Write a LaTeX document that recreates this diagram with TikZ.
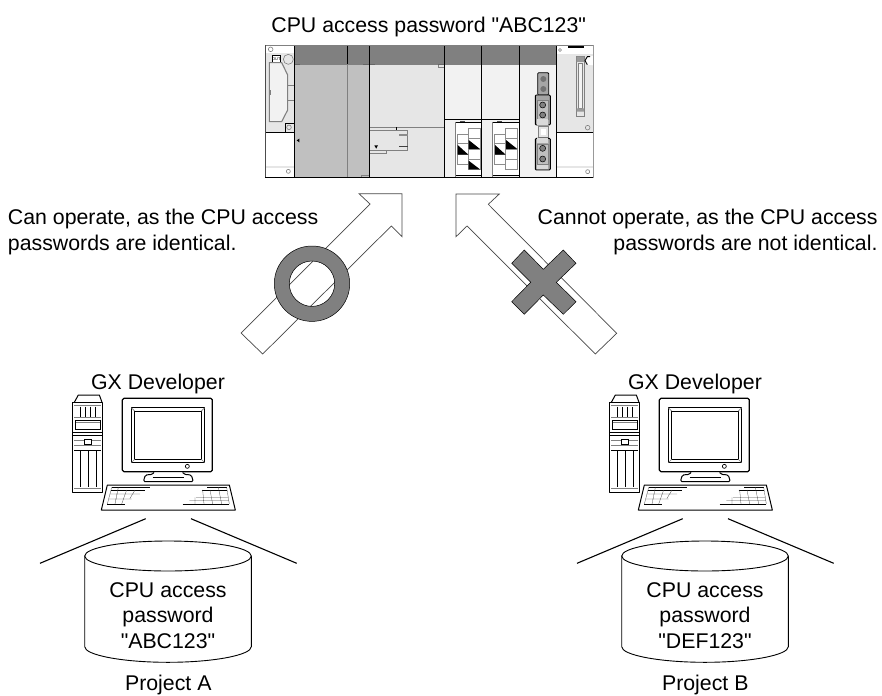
\documentclass[tikz,border=0pt]{standalone}
\usepackage{fontspec}
\setmainfont{Liberation Sans}[Ligatures=TeXOff]
\definecolor{markgray}{gray}{0.5}
\definecolor{slotgray}{gray}{0.753}
\definecolor{panelgray}{gray}{0.902}
\definecolor{palegray}{gray}{0.95}
\tikzset{
  txt/.style={inner sep=0pt,outer sep=0pt,font=\fontsize{21.3}{25.3}\selectfont},
  bigarrow/.style={draw=black!72,line width=0.7pt,fill=white,line join=miter},
  markshape/.style={draw=black,line width=0.5pt,fill=markgray,even odd rule},
  plcline/.style={draw=black,line width=0.9pt},
  thin gray/.style={draw=markgray,line width=0.6pt},
  cell/.style={draw=black!45,line width=0.6pt,fill=white},
  key/.style={line width=0.3pt,draw=black!70},
  keyb/.style={line width=0.8pt,draw=black},
  pcline/.style={draw=black,line width=1.0pt,line join=round},
  cyl/.style={draw=black,line width=0.9pt},
  spread/.style={draw=black,line width=1.1pt},
  pcset/.pic={
    \begin{scope}[x=0.33333pt,y=-0.33333pt]
      % tower
      \draw[pcline,fill=white] (128,37) rectangle (218,307);
      \draw[pcline] (133,37) -- (145,15) -- (208,15) -- (216,37);
      \draw[line width=1.3pt] (128,128) -- (218,128);
      \draw[line width=0.5pt] (128,135) -- (218,135);
      \draw[thin gray] (133,45) -- (213,45) (133,82) -- (213,82) (133,295) -- (213,295);
      \draw[line width=0.8pt] (151,50) -- (151,80) (165,50) -- (165,80) (180,50) -- (180,80) (195,50) -- (195,80);
      \draw[line width=0.7pt] (137,92) rectangle (210,118);
      \draw[thin gray] (137,98) -- (210,98);
      \draw[thin gray] (133,150) -- (213,150) (133,165) -- (213,165);
      \draw[line width=0.6pt,fill=white] (163,148) rectangle (183,163);
      \draw[line width=0.9pt] (133,180) -- (213,180);
      \draw[line width=0.9pt] (151,182) -- (151,290) (176,182) -- (176,290) (200,182) -- (200,290);
      % monitor
      \draw[pcline,rounded corners=1.5pt,line width=1.2pt,fill=white] (277,25) rectangle (547,245);
      \draw[line width=0.6pt] (304,53) rectangle (524,218);
      \draw[pcline,fill=white] (314,63) rectangle (514,208);
      \draw[thin gray] (304,53) -- (314,63) (524,53) -- (514,63) (304,218) -- (314,208) (524,218) -- (514,208);
      \draw[line width=0.7pt] (472,229) circle (2pt);
      % stand
      \draw[pcline,rounded corners=1.5pt,fill=white] (372,247) -- (368,253) -- (346,255) -- (340,275) -- (490,275) -- (484,255) -- (462,253) -- (458,247);
      \draw[line width=0.7pt] (368,262) -- (462,262);
      % keyboard
      \draw[pcline,fill=white] (232,285) -- (598,285) -- (616,360) -- (214,360) -- cycle;
      \draw[keyb] (245,292) -- (360,292) (243,300) -- (345,300) (232,342) -- (285,342);
      \draw[key] (240,312) -- (330,312) (236,327) -- (305,327)
                 (245,292) -- (232,342) (265,292) -- (255,342) (290,300) -- (275,342) (315,300) -- (300,325);
      \draw[keyb] (532,292) -- (590,292) (515,300) -- (592,300) (458,342) -- (598,342);
      \draw[key] (498,322) -- (594,322) (478,332) -- (596,332)
                 (590,292) -- (598,342) (565,292) -- (575,342) (540,300) -- (548,342) (518,300) -- (522,342) (495,322) -- (495,342);
    \end{scope}
  },
  dbset/.pic={
    \draw[spread] (-22.3,-37.3) -- (-128,7.3) (23,-37.3) -- (128.7,7.3);
    \draw[cyl,fill=white] (-83.3,0) -- (-83.3,90.7) .. controls (-83.3,99) and (-46,106.3) .. (0,106.3) .. controls (46,106.3) and (83.3,99) .. (83.3,90.7) -- (83.3,0);
    \draw[cyl,fill=white] (0,0) ellipse [x radius=83.3pt,y radius=15pt];
  }
}
\begin{document}
\begin{tikzpicture}[x=1pt,y=-1pt]
\useasboundingbox (0,0) rectangle (882,695);
\fill[white] (0,0) rectangle (882,695);

\node[txt,anchor=base] (plclabel) at (428.7,32.5) {CPU access password "ABC123"};

% PLC rack, in coordinates of a 3x crop at (260,30)
\begin{scope}[shift={(260pt,-30pt)},x=0.33333pt,y=-0.33333pt]
  % base fills
  \fill[panelgray] (16,45) rectangle (104,308);
  \fill[white] (16,45) rectangle (104,68);
  \fill[white] (16,308) rectangle (104,443);
  \fill[panelgray] (18,408) rectangle (104,413);
  \fill[slotgray] (104,106) rectangle (329,443);
  \fill[panelgray] (329,106) rectangle (553,443);
  \fill[palegray] (553,106) rectangle (777,443);
  \fill[palegray] (777,106) rectangle (890,443);
  \fill[panelgray] (890,45) rectangle (1000,308);
  \fill[white] (890,45) rectangle (1000,72);
  \fill[white] (890,308) rectangle (1000,443);
  \fill[panelgray] (890,408) rectangle (1000,413);
  \fill[markgray] (104,45) rectangle (890,106);
  % left unit
  \draw[thin gray] (32,58) circle (2.3pt);
  \draw[line width=0.8pt,fill=white] (36,76) rectangle (62,96);
  \node[inner sep=0pt,font=\fontsize{4}{4}\selectfont] (outmark) at (49,86) {OUT};
  \draw[thin gray] (85,88) circle (5pt);
  \draw[draw=markgray,line width=1.1pt,fill=palegray] (28,98) -- (65,98) -- (83,135) -- (83,240) -- (65,275) -- (28,275) -- cycle;
  \draw[thin gray] (83,165) -- (103,165) -- (103,210) -- (83,210);
  \fill[markgray] (28,180) rectangle (32,195);
  \draw[line width=0.8pt] (104,280) -- (77,280) -- (77,308);
  \draw[thin gray] (87,292) circle (2.3pt);
  \draw[line width=0.9pt] (16,308) -- (104,308);
  \draw[thin gray] (85,424) circle (2pt);
  \fill (110,331) -- (118,326) -- (118,337) -- cycle;
  % slot divider and module tabs
  \draw[draw=markgray,line width=0.8pt] (263,106) -- (263,443);
  \draw[line width=0.9pt] (263,45) -- (263,102);
  \draw[draw=black!60,line width=0.6pt] (104,102) -- (120,102) (310,102) -- (345,102) (535,102) -- (553,102);
  \draw[thin gray] (303,443) -- (303,436) -- (329,436) (535,106) -- (535,113) -- (553,113);
  % CPU panel detail
  \draw[thin gray] (330,292) -- (553,292);
  \draw[thin gray] (330,300) -- (443,300) -- (443,361) -- (330,361) (330,371) -- (378,371) -- (378,361);
  \draw[line width=0.8pt] (409,292) -- (409,300);
  \fill[black!45] (417,312) rectangle (443,317);
  \fill[black!75] (417,349) rectangle (443,352);
  \fill (343,346) -- (354,346) -- (348.5,356) -- cycle;
  % two modules
  \draw[line width=0.9pt] (553,268) -- (777,268);
  \foreach \dx in {0,112}{
    \begin{scope}[xshift=\dx*0.33333pt]
      \fill[white] (586,277) rectangle (665,435);
      \draw[line width=0.9pt] (586,277) -- (665,277) (586,435) -- (665,435);
      \draw[thin gray] (586,277) -- (586,443);
      \draw[line width=0.5pt,black!70] (600,273) -- (615,273);
      \draw[cell] (592,313) rectangle (625,341);
      \draw[cell] (592,341) rectangle (625,374);
      \draw[cell] (592,374) rectangle (625,403);
      \draw[cell] (625,296) rectangle (660,326);
      \draw[cell] (625,326) rectangle (660,357);
      \draw[cell] (625,357) rectangle (660,388);
      \draw[cell] (625,388) rectangle (660,418);
      \fill (593,345) -- (593,374) -- (625,374) -- cycle;
      \fill (626,330) -- (626,357) -- (660,357) -- cycle;
    \end{scope}
  }
  \fill (626,392) -- (626,418) -- (660,418) -- cycle;
  % connector column
  \draw[line width=0.8pt,fill=black!35,rounded corners=1pt] (833,128) rectangle (866,195);
  \fill[black!55] (850,147) circle (3pt) (850,177) circle (3pt);
  \draw[line width=0.9pt,fill=black!35,rounded corners=1pt] (826,195) rectangle (871,285);
  \draw[thin gray,fill=black!25] (832,212) rectangle (865,268);
  \draw[line width=0.5pt,fill=black!50] (848,225) circle (3pt) (848,255) circle (3pt);
  \fill[black!15] (832,268) rectangle (865,285);
  \draw[thin gray,fill=black!10] (835,290) rectangle (865,322);
  \fill[white] (843,298) rectangle (857,314);
  \draw[line width=0.9pt,fill=black!35,rounded corners=1pt] (826,325) rectangle (871,420);
  \fill[black!15] (832,325) rectangle (865,340);
  \draw[thin gray,fill=black!25] (832,342) rectangle (865,403);
  \draw[line width=0.5pt,fill=black!50] (848,355) circle (3pt) (848,387) circle (3pt);
  \fill[black!15] (832,405) rectangle (865,418);
  % right unit
  \draw[thin gray] (900,60) circle (1.5pt);
  \fill (925,49) rectangle (972,55);
  \draw[draw=markgray,line width=0.8pt,fill=panelgray] (950,80) rectangle (972,258);
  \draw[draw=markgray,line width=0.6pt,fill=white!50!panelgray] (955,100) rectangle (968,235);
  \fill[black!40] (950,80) rectangle (972,96) (950,235) rectangle (972,245);
  \fill[white] (1000,78) -- (982,80) -- (975,92) -- (982,104) -- (1000,106) -- cycle;
  \draw[line width=0.9pt] (990,80) -- (982,80) -- (975,92) -- (982,104);
  \draw[thin gray] (983,293) circle (2.3pt);
  \draw[line width=0.9pt] (890,308) -- (1000,308);
  \draw[thin gray] (983,425) circle (2pt);
  % module dividers and outline
  \foreach \xd in {104,329,553,665,777,890}{\draw[plcline] (\xd,45) -- (\xd,443);}
  \draw[draw=black!50,line width=0.8pt] (16,45) -- (1000,45);
  \draw[draw=black!70,line width=0.8pt] (16,45) -- (16,443);
  \draw[draw=black!40,line width=0.6pt] (1000,45) -- (1000,443);
  \draw[line width=1.2pt] (16,443) -- (1000,443);
\end{scope}

% arrows
\draw[bigarrow] (402,193.7) -- (359,193.7) -- (370,204) -- (241,333) -- (262.7,354) -- (391.3,226) -- (402,236.7) -- cycle;
\draw[bigarrow] (456,194) -- (499.3,194) -- (488.3,204.3) -- (616.7,333.3) -- (595.3,354) -- (467,226) -- (456,236.7) -- cycle;

% marks
\path[markshape] (312,283.7) circle [radius=37.7pt] (312,283.7) circle [radius=22.7pt];
\path[markshape] (524.3,250) -- (543.3,269.3) -- (563.3,250) -- (576,263.3) -- (556.3,282.3) -- (576,301.7) -- (563.3,314.3) -- (543.3,295) -- (524.3,314.3) -- (511.7,301.7) -- (530.7,282.3) -- (511.7,263.3) -- cycle;

% captions
\node[txt,anchor=north west,align=left] (oktext) at (8,209.5) {Can operate, as the CPU access\\passwords are identical.};
\node[txt,anchor=north east,align=right] (ngtext) at (877.5,209.5) {Cannot operate, as the CPU access\\passwords are not identical.};

% left station
\node[txt,anchor=base] (gxa) at (158,389) {GX Developer};
\pic (pca) at (30,390) {pcset};
\pic (dba) at (168,556) {dbset};
\node[txt,anchor=north,align=center] (passa) at (168,582.8) {CPU access\\password\\"ABC123"};
\node[txt,anchor=base] (proja) at (168.3,690.7) {Project A};

% right station
\node[txt,anchor=base] (gxb) at (695,389) {GX Developer};
\pic (pcb) at (567,390) {pcset};
\pic (dbb) at (705,556) {dbset};
\node[txt,anchor=north,align=center] (passb) at (705,582.8) {CPU access\\password\\"DEF123"};
\node[txt,anchor=base] (projb) at (705.3,690.7) {Project B};
\end{tikzpicture}
\end{document}
